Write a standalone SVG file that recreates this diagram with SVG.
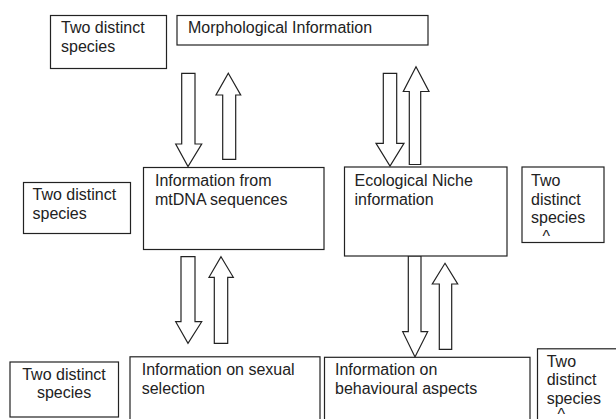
<svg xmlns="http://www.w3.org/2000/svg" width="616" height="419" viewBox="0 0 616 419">
<style>
.box{fill:#fff;stroke:#222;stroke-width:1.2}
.arr{fill:#fff;stroke:#222;stroke-width:1.2;stroke-linejoin:miter}
text{font-family:"Liberation Sans",Arial,sans-serif;font-size:16px;fill:#222}
</style>
<rect width="616" height="419" fill="#fff"/>
<g id="connectors">
<polygon class="arr" points="181.7,73.3 195,73.3 195,144 201.7,144 188,166.5 175.7,144 181.7,144"/>
<polygon class="arr" points="228.3,73.3 240.7,95 235.7,95 235.7,159.3 222.7,159.3 222.7,95 216,95"/>
<polygon class="arr" points="181,256.7 195,256.7 195,321.7 201.7,321.7 188,343.3 175.7,321.7 181,321.7"/>
<polygon class="arr" points="221,256.7 233.3,277.3 227.7,277.3 227.7,343.3 214.3,343.3 214.3,277.3 209,277.3"/>
<polygon class="arr" points="383.3,73.3 396.7,73.3 396.7,143.3 404,143.3 390,166 376,143.3 383.3,143.3"/>
<polygon class="arr" points="416,66.7 429,91.5 420.7,91.5 420.7,164.5 409.3,164.5 409.3,91.5 403.3,91.5"/>
<polygon class="arr" points="408.3,256 421,256 421,331.7 427.7,331.7 415,357 402.7,331.7 408.3,331.7"/>
<polygon class="arr" points="445,263.3 457.7,284 451.7,284 451.7,349.3 439.3,349.3 439.3,284 432.3,284"/>
</g>
<g id="n_species_tl">
<rect class="box" x="50.5" y="15.5" width="116" height="53"/>
<text x="61" y="33">Two distinct</text>
<text x="61" y="52">species</text>
</g>
<g id="n_morph">
<rect class="box" x="177" y="15.5" width="251" height="29.5"/>
<text x="188" y="33">Morphological Information</text>
</g>
<g id="n_species_ml">
<rect class="box" x="23.5" y="182.5" width="107" height="51"/>
<text x="32.5" y="199.5">Two distinct</text>
<text x="32.5" y="219">species</text>
</g>
<g id="n_mtdna">
<rect class="box" x="143.5" y="167.5" width="180.5" height="82"/>
<text x="155" y="185.5">Information from</text>
<text x="155" y="205">mtDNA sequences</text>
</g>
<g id="n_eco">
<rect class="box" x="344.5" y="167" width="162.5" height="89"/>
<text x="354.5" y="186">Ecological Niche</text>
<text x="354.5" y="204.5">information</text>
</g>
<g id="n_species_mr">
<rect class="box" x="522" y="167" width="82" height="75.5"/>
<text x="531" y="186">Two</text>
<text x="531" y="204.5">distinct</text>
<text x="531" y="223">species</text>
<text x="542.5" y="242">^</text>
</g>
<g id="n_species_bl">
<rect class="box" x="10" y="362" width="108.5" height="55"/>
<text x="64" y="380" text-anchor="middle">Two distinct</text>
<text x="64" y="397.5" text-anchor="middle">species</text>
</g>
<g id="n_sexual">
<rect class="box" x="130" y="356.8" width="190" height="70"/>
<text x="141.7" y="374.5">Information on sexual</text>
<text x="141.7" y="393.5">selection</text>
</g>
<g id="n_behav">
<rect class="box" x="324.5" y="357.3" width="205.5" height="70"/>
<text x="335" y="374.5">Information on</text>
<text x="335" y="394">behavioural aspects</text>
</g>
<g id="n_species_br">
<rect class="box" x="537.5" y="348.8" width="90" height="80"/>
<text x="546.7" y="367">Two</text>
<text x="546.7" y="385.3">distinct</text>
<text x="546.7" y="403.6">species</text>
<text x="557.5" y="420">^</text>
</g>
</svg>
